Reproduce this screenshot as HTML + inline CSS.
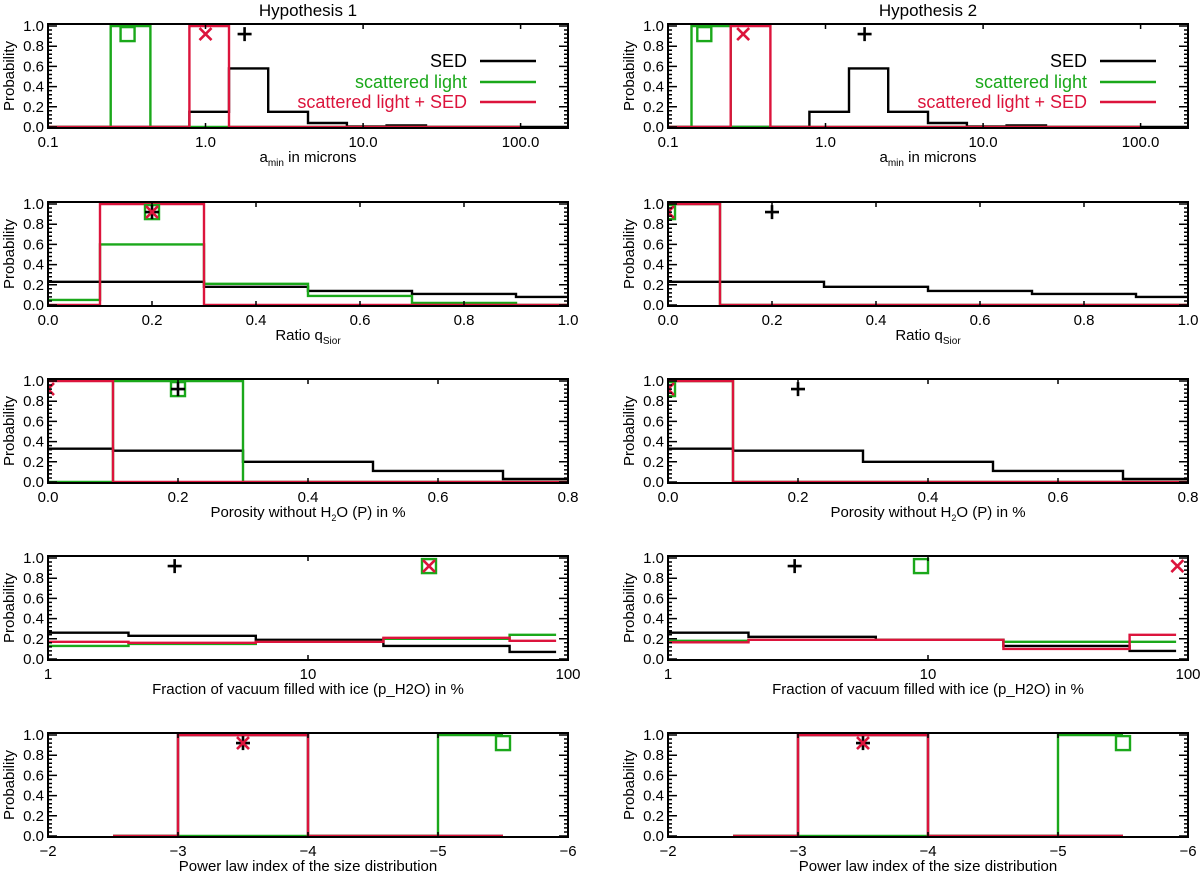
<!DOCTYPE html>
<html><head><meta charset="utf-8"><style>
html,body{margin:0;padding:0;background:#fff;}
svg{display:block;font-family:"Liberation Sans",Arial,sans-serif;}
</style></head><body>
<svg id="fig" width="1200" height="873" viewBox="0 0 1200 873"></svg>
<script>
// ---- data ----
const aminEdges = [0.1, 0.141, 0.25, 0.447, 0.79, 1.41, 2.5, 4.47, 7.9, 14.1, 25.1, 44.7, 79.4, 100, 200];
const h1AminSed = [0, 0, 0, 0, 0.15, 0.58, 0.15, 0.04, 0.005, 0.015, 0, 0, 0, 0];
const h1AminGreen = [0, 0, 1, 0, 0, 0, 0, 0, 0, 0, 0, 0, 0, null];
const h1AminRed = [0, 0, 0, 0, 1, 0, 0, 0, 0, 0, 0, 0, 0, null];
const h2AminSed = [0, 0, 0, 0, 0.15, 0.58, 0.15, 0.04, 0.005, 0.015, 0, 0, 0, 0];
const h2AminGreen = [0, 1, 0, 0, 0, 0, 0, 0, 0, 0, 0, 0, 0, null];
const h2AminRed = [0, 0, 1, 0, 0, 0, 0, 0, 0, 0, 0, 0, 0, null];
const h1AminMarks = {sed: 1.77, green: 0.32, red: 1.0};
const h2AminMarks = {sed: 1.77, green: 0.17, red: 0.3};
const aminTicks = [0.1, 1, 10, 100];
const aminTickLabels = ["0.1", "1.0", "10.0", "100.0"];

const qEdges = [0, 0.1, 0.3, 0.5, 0.7, 0.9, 1.0];
const h1QSed = [0.23, 0.23, 0.18, 0.14, 0.11, 0.08];
const h1QGreen = [0.05, 0.6, 0.21, 0.09, 0.02, 0];
const h1QRed = [0, 1, 0, 0, 0, 0];
const h2QSed = [0.23, 0.23, 0.18, 0.14, 0.11, 0.08];
const h2QGreen = [1, 0, 0, 0, 0, 0];
const h2QRed = [1, 0, 0, 0, 0, 0];
const h1QMarks = {sed: 0.2, green: 0.2, red: 0.2};
const h2QMarks = {sed: 0.2, green: 0.0, red: 0.0};
const qTicks = [0, 0.2, 0.4, 0.6, 0.8, 1.0];
const qTickLabels = ["0.0", "0.2", "0.4", "0.6", "0.8", "1.0"];

const pEdges = [0, 0.1, 0.3, 0.5, 0.7, 0.8];
const h1PSed = [0.33, 0.31, 0.2, 0.11, 0.03];
const h1PGreen = [0, 1, 0, 0, 0];
const h1PRed = [1, 0, 0, 0, 0];
const h2PSed = [0.33, 0.31, 0.2, 0.11, 0.03];
const h2PGreen = [1, 0, 0, 0, 0];
const h2PRed = [1, 0, 0, 0, 0];
const h1PMarks = {sed: 0.2, green: 0.2, red: 0.0};
const h2PMarks = {sed: 0.2, green: 0.0, red: 0.0};
const pTicks = [0, 0.2, 0.4, 0.6, 0.8];
const pTickLabels = ["0.0", "0.2", "0.4", "0.6", "0.8"];

const iceEdges = [1, 2.04, 6.3, 19.5, 59.6, 90];
const h1IceSed = [0.26, 0.23, 0.19, 0.13, 0.07];
const h1IceGreen = [0.13, 0.15, 0.17, 0.2, 0.24];
const h1IceRed = [0.17, 0.16, 0.17, 0.21, 0.18];
const h2IceSed = [0.26, 0.22, 0.19, 0.13, 0.08];
const h2IceGreen = [0.18, 0.19, 0.19, 0.17, 0.17];
const h2IceRed = [0.165, 0.19, 0.19, 0.1, 0.24];
const h1IceMarks = {sed: 3.07, green: 29.2, red: 29.2};
const h2IceMarks = {sed: 3.07, green: 9.4, red: 91};
const iceTicks = [1, 10, 100];
const iceTickLabels = ["1", "10", "100"];

const powEdges = [-2.5, -3, -4, -5, -5.5];
const h1PowSed = [0, 1, 0, 0];
const h1PowGreen = [0, 0, 0, 1];
const h1PowRed = [0, 1, 0, 0];
const h2PowSed = [0, 1, 0, 0];
const h2PowGreen = [0, 0, 0, 1];
const h2PowRed = [0, 1, 0, 0];
const h1PowMarks = {sed: -3.5, green: -5.5, red: -3.5};
const h2PowMarks = {sed: -3.5, green: -5.5, red: -3.5};
const powTicks = [-2, -3, -4, -5, -6];
const powTickLabels = ["\u22122", "\u22123", "\u22124", "\u22125", "\u22126"];

const yTicks = [0, 0.2, 0.4, 0.6, 0.8, 1.0];
const yTickLabels = ["0.0", "0.2", "0.4", "0.6", "0.8", "1.0"];
const markY = 0.92;

// ---- layout ----
const NS = "http://www.w3.org/2000/svg";
const svg = document.getElementById("fig");
const colX = [48, 668], PW = 520;
const rowTop = [24, 202, 379, 556, 733], PH = 104;
const GREEN = "#1aa81a", RED = "#dc143c", BLACK = "#000";

function mk(tag, attrs, parent) {
  const e = document.createElementNS(NS, tag);
  for (const k in attrs) e.setAttribute(k, attrs[k]);
  (parent || svg).appendChild(e);
  return e;
}

const rows = [
  {name: "amin", log: true, dom: [0.1, 200], ticks: aminTicks, labels: aminTickLabels, edges: aminEdges,
   h: [[h1AminSed, h1AminGreen, h1AminRed, h1AminMarks], [h2AminSed, h2AminGreen, h2AminRed, h2AminMarks]], title: "amin"},
  {name: "q", log: false, dom: [0, 1], ticks: qTicks, labels: qTickLabels, edges: qEdges,
   h: [[h1QSed, h1QGreen, h1QRed, h1QMarks], [h2QSed, h2QGreen, h2QRed, h2QMarks]], title: "q"},
  {name: "porosity", log: false, dom: [0, 0.8], ticks: pTicks, labels: pTickLabels, edges: pEdges,
   h: [[h1PSed, h1PGreen, h1PRed, h1PMarks], [h2PSed, h2PGreen, h2PRed, h2PMarks]], title: "Porosity without H"},
  {name: "ice", log: true, dom: [1, 100], ticks: iceTicks, labels: iceTickLabels, edges: iceEdges,
   h: [[h1IceSed, h1IceGreen, h1IceRed, h1IceMarks], [h2IceSed, h2IceGreen, h2IceRed, h2IceMarks]], title: "Fraction of vacuum filled with ice (p_H2O) in %"},
  {name: "powerlaw", log: false, dom: [-2, -6], ticks: powTicks, labels: powTickLabels, edges: powEdges,
   h: [[h1PowSed, h1PowGreen, h1PowRed, h1PowMarks], [h2PowSed, h2PowGreen, h2PowRed, h2PowMarks]], title: "Power law index of the size distribution"}
];

rows.forEach((r, ri) => {
  [0, 1].forEach(ci => {
    const L = colX[ci], T = rowTop[ri], B = T + PH, R = L + PW;
    const g = mk("g", {});
    
    
    const f = v => r.log ? Math.log10(v) : v;
    const x = v => L + (f(v) - f(r.dom[0])) / (f(r.dom[1]) - f(r.dom[0])) * PW;
    const y = v => T + 2 + (1 - v) * (PH - 3);
    const cid = "clip" + ri + "_" + ci;
    const cp = mk("clipPath", {id: cid}, g);
    mk("rect", {x: L, y: T - 2, width: PW, height: PH + 4}, cp);

    const [sed, gr, rd, marks] = r.h[ci];
    const series = [[sed, BLACK, "sed"], [gr, GREEN, "scattered-light"], [rd, RED, "scattered-light-sed"]];
    series.forEach(([vals, col, nm]) => {
      let d = "", prev = null;
      vals.forEach((v, i) => {
        if (v === null) { prev = null; return; }
        const x0 = x(r.edges[i]), x1 = x(r.edges[i + 1]), yy = y(v);
        if (prev === null) d += "M" + x0.toFixed(1) + "," + yy.toFixed(1);
        else d += "V" + yy.toFixed(1);
        d += "H" + x1.toFixed(1);
        prev = v;
      });
      const p = mk("path", {d: d, fill: "none", stroke: col, "stroke-width": 2.4, "clip-path": "url(#" + cid + ")"}, g);
      
      
    });

    const mg = mk("g", {"clip-path": "url(#" + cid + ")"}, g);
    const my = y(markY);
    let mx = x(marks.green);
    const sq = mk("rect", {x: mx - 7, y: my - 7, width: 14, height: 14, fill: "none", stroke: GREEN, "stroke-width": 2.4}, mg);
    
    
    mx = x(marks.sed);
    const pl = mk("path", {d: `M${mx - 7},${my}H${mx + 7}M${mx},${my - 7}V${my + 7}`, stroke: BLACK, "stroke-width": 2.6}, mg);
    
    
    mx = x(marks.red);
    const xm = mk("path", {d: `M${mx - 6},${my - 6}L${mx + 6},${my + 6}M${mx + 6},${my - 6}L${mx - 6},${my + 6}`, stroke: RED, "stroke-width": 2.6}, mg);
    
    

    const fr = mk("rect", {x: L, y: T, width: PW, height: PH, fill: "none", stroke: "#000", "stroke-width": 2}, g);
    
    
    let td = "";
    for (let k = 0; k <= 25; k++) {
      const v = k * 0.04, yy = y(v).toFixed(1);
      const len = (k % 5 === 0) ? 9 : 4;
      td += `M${L},${yy}h${len}M${R},${yy}h${-len}`;
    }
    r.ticks.forEach(t => { const xx = x(t).toFixed(1); td += `M${xx},${B}v-5M${xx},${T}v5`; });
    mk("path", {d: td, stroke: "#000", "stroke-width": 1.5, fill: "none"}, g);
    yTicks.forEach((t, i) => {
      const tx = mk("text", {x: L - 4, y: y(t) + 5, "text-anchor": "end", "font-size": 15}, g);
      tx.textContent = yTickLabels[i];
      
      
    });
    r.ticks.forEach((t, i) => {
      const tx = mk("text", {x: x(t), y: B + 19, "text-anchor": "middle", "font-size": 15}, g);
      tx.textContent = r.labels[i];
      
      
    });
    const yt = mk("text", {x: 0, y: 0, "text-anchor": "middle", "font-size": 15, transform: `translate(${L - 34},${T + PH / 2}) rotate(-90)`}, g);
    yt.textContent = "Probability";
    
    
    const xt = mk("text", {x: L + PW / 2, y: B + 34, "text-anchor": "middle", "font-size": 15}, g);
    
    
    if (r.name === "amin") {
      xt.innerHTML = 'a<tspan font-size="10" dy="4">min</tspan><tspan dy="-4"> in microns</tspan>';
    } else if (r.name === "q") {
      xt.innerHTML = 'Ratio q<tspan font-size="10" dy="4">Sior</tspan>';
    } else if (r.name === "porosity") {
      xt.innerHTML = 'Porosity without H<tspan font-size="9" dy="4">2</tspan><tspan dy="-4">O (P) in %</tspan>';
    } else {
      xt.textContent = r.title;
    }

    if (ri === 0) {
      const ht = mk("text", {x: L + PW / 2, y: 16, "text-anchor": "middle", "font-size": 17}, g);
      ht.textContent = "Hypothesis " + (ci + 1);
      
      
      const leg = [["SED", BLACK, 61], ["scattered light", GREEN, 82], ["scattered light + SED", RED, 102]];
      leg.forEach(([lab, col, ly]) => {
        const lg = mk("g", {}, g);
        
        
        const lt = mk("text", {x: L + 419, y: ly + 6, "text-anchor": "end", "font-size": 18, fill: col}, lg);
        lt.textContent = lab;
        mk("line", {x1: L + 432, x2: L + 488, y1: ly, y2: ly, stroke: col, "stroke-width": 2.5}, lg);
      });
    }
  });
});
</script>
</body></html>
